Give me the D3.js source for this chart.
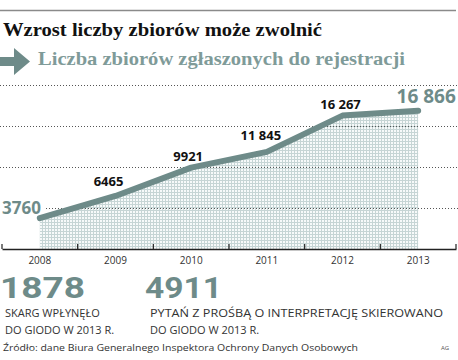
<!DOCTYPE html>
<html><head><meta charset="utf-8">
<script src="https://cdn.jsdelivr.net/npm/d3@7/dist/d3.min.js"></script>
<style>body{margin:0;background:#fff}svg{display:block}</style>
</head><body>
<script>
const years = ["2008","2009","2010","2011","2012","2013"];
const values = [3760, 6465, 9921, 11845, 16267, 16866];
const valueLabels = ["3760","6465","9921","11 845","16 267","16 866"];
const gridTicks = [5000, 10000, 15000, 20000];

const W = 458, H = 360;
const teal = "#6e8b89";
const svg = d3.select("body").append("svg").attr("width", W).attr("height", H);

const defs = svg.append("defs");
const pat = defs.append("pattern").attr("id","grid").attr("patternUnits","userSpaceOnUse")
  .attr("width",3).attr("height",3);
pat.append("rect").attr("width",3).attr("height",3).attr("fill","#f7fafa");
pat.append("rect").attr("x",0).attr("y",0).attr("width",1).attr("height",3).attr("fill","#c6d5d5");
pat.append("rect").attr("x",0).attr("y",0).attr("width",3).attr("height",1).attr("fill","#c6d5d5");

// top rule
svg.append("line").attr("x1",0).attr("x2",456).attr("y1",10.5).attr("y2",10.5)
  .attr("stroke","#8a8a8a").attr("stroke-width",1.5);

// title
svg.append("text").attr("x",3).attr("y",36)
  .attr("font-family","Liberation Serif, serif").attr("font-weight","bold").attr("font-size",19)
  .attr("fill","#111").attr("textLength",319).attr("lengthAdjust","spacingAndGlyphs")
  .text("Wzrost liczby zbiorów może zwolnić");

// arrow
svg.append("path").attr("d","M0,57 L14,57 L14,48 L30,61.5 L14,75 L14,66 L0,66 Z").attr("fill",teal);
svg.append("text").attr("x",38).attr("y",65)
  .attr("font-family","Liberation Serif, serif").attr("font-weight","bold").attr("font-size",19)
  .attr("fill","#7f9b99").attr("textLength",367).attr("lengthAdjust","spacingAndGlyphs")
  .text("Liczba zbiorów zgłaszonych do rejestracji");

const x = d3.scaleBand().domain(years).range([2, 456]);
const y = d3.scaleLinear().domain([0, 20000]).range([249, 85]);
const cx = d => x(d) + x.bandwidth()/2;

const data = years.map((yr,i)=>({yr, v: values[i], lab: valueLabels[i]}));

// area
const area = d3.area().x(d=>cx(d.yr)).y0(y(0)).y1(d=>y(d.v));
svg.append("path").datum(data).attr("d", area).attr("fill","url(#grid)");

// gridlines
svg.selectAll(".g").data(gridTicks).enter().append("line")
  .attr("x1", d => d===5000 ? 46 : 0).attr("x2", 458)
  .attr("y1", d=>Math.round(y(d))+0.5).attr("y2", d=>Math.round(y(d))+0.5)
  .attr("stroke","#555").attr("stroke-width",1).attr("stroke-dasharray","1,2");

// axis
const axis = d3.axisBottom(x).tickSizeOuter(0).tickSize(0);
const ag = svg.append("g").attr("transform",`translate(0,${y(0)})`).call(axis);
ag.select(".domain").attr("stroke","#222").attr("stroke-width",1.5);
ag.selectAll("text").attr("font-family","Open Sans, sans-serif").attr("font-size",10)
  .attr("fill","#333").attr("dy","1.2em");
// band boundary ticks
const bounds = years.map(d=>x(d)).concat([x(years[years.length-1])+x.bandwidth()]);
svg.selectAll(".bt").data(bounds).enter().append("line")
  .attr("x1",d=>d).attr("x2",d=>d).attr("y1",y(0)-5).attr("y2",y(0))
  .attr("stroke","#222").attr("stroke-width",1.2);

// line
const line = d3.line().x(d=>cx(d.yr)).y(d=>y(d.v));
svg.append("path").datum(data).attr("d", line).attr("fill","none")
  .attr("stroke",teal).attr("stroke-width",6).attr("stroke-linecap","round").attr("stroke-linejoin","round");

// value labels
const lblPos = [
  {dx:-17, dy:-7, color:teal, size:17},
  {dx:-7, dy:-10, color:"#111", size:13},
  {dx:-3, dy:-7, color:"#111", size:13},
  {dx:-6, dy:-12, color:"#111", size:13},
  {dx:-2, dy:-7, color:"#111", size:13},
  {dx:8, dy:-8, color:teal, size:19}
];
svg.selectAll(".vl").data(data).enter().append("text")
  .attr("x",(d,i)=> i===0 ? 2 : cx(d.yr)+lblPos[i].dx)
  .attr("y",(d,i)=> i===0 ? 214 : y(d.v)+lblPos[i].dy)
  .attr("text-anchor",(d,i)=> i===0 ? "start" : "middle")
  .attr("font-family","Open Sans, sans-serif").attr("font-weight","bold")
  .attr("font-size",(d,i)=>lblPos[i].size).attr("fill",(d,i)=>lblPos[i].color)
  .text(d=>d.lab);

// bottom big numbers
const bigNums = ["1878","4911"];
const bigX = [0, 145];
svg.selectAll(".bn").data(bigNums).enter().append("text")
  .attr("x",(d,i)=>bigX[i]).attr("y",298)
  .attr("font-family","Roboto, sans-serif").attr("font-weight","bold").attr("font-size",29)
  .attr("fill",teal).attr("textLength",(d,i)=>i===0?85:77).attr("lengthAdjust","spacingAndGlyphs")
  .text(d=>d);

const capStyle = t => t.attr("font-family","Open Sans, sans-serif").attr("font-size",11).attr("fill","#333");
capStyle(svg.append("text").attr("x",5).attr("y",317).text("SKARG WPŁYNĘŁO"));
capStyle(svg.append("text").attr("x",5).attr("y",334).text("DO GIODO W 2013 R."));
capStyle(svg.append("text").attr("x",150).attr("y",317).attr("textLength",293).attr("lengthAdjust","spacingAndGlyphs")
  .text("PYTAŃ Z PROŚBĄ O INTERPRETACJĘ SKIEROWANO"));
capStyle(svg.append("text").attr("x",150).attr("y",334).text("DO GIODO W 2013 R."));

svg.append("text").attr("x",3).attr("y",351)
  .attr("font-family","Open Sans, sans-serif").attr("font-size",9).attr("fill","#333")
  .attr("textLength",355).attr("lengthAdjust","spacingAndGlyphs")
  .text("Źródło: dane Biura Generalnego Inspektora Ochrony Danych Osobowych");
svg.append("text").attr("x",441).attr("y",350)
  .attr("font-family","Open Sans, sans-serif").attr("font-size",6).attr("fill","#555").text("AG");
</script>
</body></html>
